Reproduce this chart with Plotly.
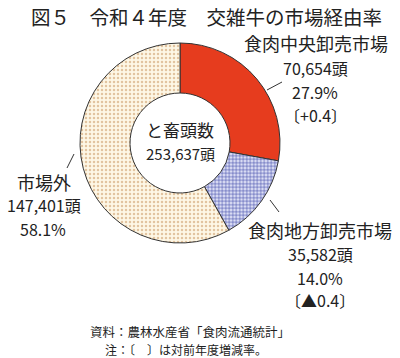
import plotly.graph_objects as go

categories = ["食肉中央卸売市場", "食肉地方卸売市場", "市場外"]
heads = [70654, 35582, 147401]
shares = [27.9, 14.0, 58.1]
changes = ["〔+0.4〕", "〔▲0.4〕", ""]
total_label = "と畜頭数"
total_heads = 253637
title = "図５　令和４年度　交雑牛の市場経由率"
notes = ["資料：農林水産省「食肉流通統計」", "注：〔　〕は対前年度増減率。"]

W, H = 400, 358
FONT = "Noto Sans CJK JP"
TXT = "#222222"


def px(x):
    return x / W


def py(y):
    return 1 - y / H


fig = go.Figure()
fig.add_trace(go.Pie(
    labels=categories,
    values=heads,
    sort=False,
    direction="clockwise",
    rotation=0,
    hole=0.5,
    textinfo="none",
    hoverinfo="label+value+percent",
    marker=dict(
        colors=["#E63C1E", "#DCDEF4", "#FEF7E6"],
        line=dict(color="#333333", width=1),
        pattern=dict(
            shape=["", "+", "."],
            fgcolor=["#E63C1E", "#4048A8", "#E2C4A0"],
            bgcolor=["#E63C1E", "#DCDEF4", "#FEF7E6"],
            size=[6, 3.5, 4],
            solidity=[0.3, 0.3, 0.3],
            fillmode="replace",
        ),
    ),
    domain=dict(x=[px(80), px(280)], y=[py(243), py(43)]),
    showlegend=False,
))

annotations = []


def add_text(x, y, text, size=14, yanchor="middle"):
    annotations.append(dict(
        x=px(x), y=py(y), xref="paper", yref="paper", text=text,
        showarrow=False, xanchor="center", yanchor=yanchor,
        font=dict(family=FONT, size=size, color=TXT),
    ))


add_text(206, 17, title, 19.5)

# 食肉中央卸売市場
add_text(316, 43, categories[0], 18)
add_text(315, 68, f"{heads[0]:,}頭", 16)
add_text(315, 92, f"{shares[0]:.1f}%", 16)
add_text(315, 115, changes[0], 16)

# 食肉地方卸売市場
add_text(320, 230, categories[1], 18)
add_text(320, 254, f"{heads[1]:,}頭", 16)
add_text(320, 278, f"{shares[1]:.1f}%", 16)
add_text(320, 300, changes[1], 16)

# 市場外
add_text(44, 182, categories[2], 18)
add_text(44, 205, f"{heads[2]:,}頭", 16)
add_text(43, 229, f"{shares[2]:.1f}%", 16)

# center
add_text(180, 129, total_label, 17)
add_text(180, 153, f"{total_heads:,}頭", 15)

# notes
add_text(190, 331, notes[0], 12.5)
add_text(186, 349, notes[1], 12)

shapes = []
for (x0, y0, x1, y1) in [(267, 90, 282, 82), (270, 200, 279, 212), (67, 168, 74, 154)]:
    shapes.append(dict(type="line", xref="paper", yref="paper",
                       x0=px(x0), y0=py(y0), x1=px(x1), y1=py(y1),
                       line=dict(color="#333333", width=1)))

fig.update_layout(
    width=W, height=H,
    margin=dict(l=0, r=0, t=0, b=0),
    paper_bgcolor="white",
    plot_bgcolor="white",
    annotations=annotations,
    shapes=shapes,
)

fig.write_html(
    "out.html",
    config={"displayModeBar": False},
    post_script="document.body.style.margin='0';document.body.style.overflow='hidden';",
)
